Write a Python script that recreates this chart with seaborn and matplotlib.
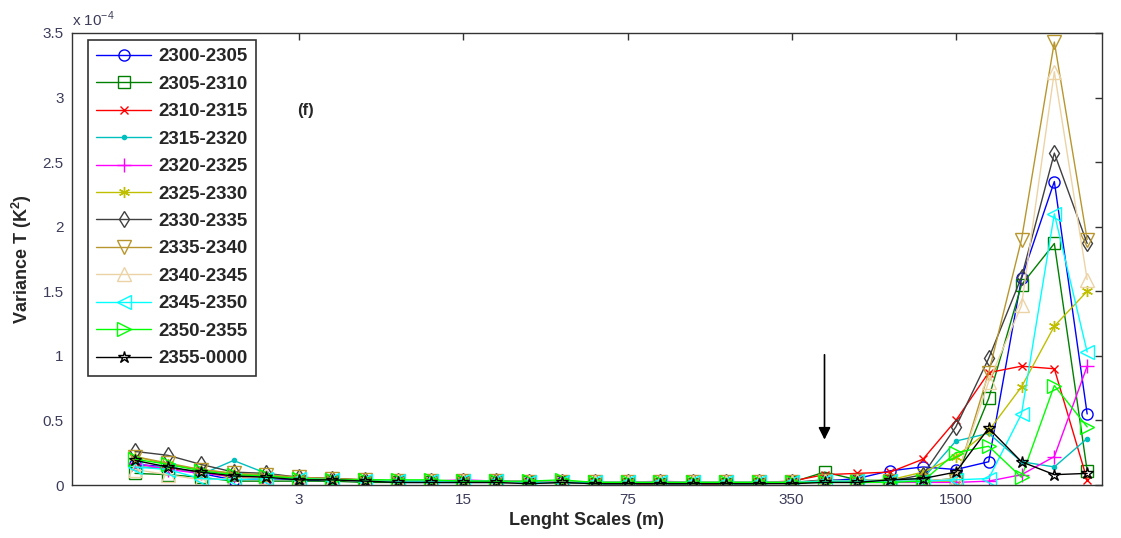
import matplotlib
matplotlib.use('Agg')
import matplotlib.pyplot as plt
import seaborn as sns
import pandas as pd

# scale index (1..30); only every 5th one carries a label
idx = list(range(1, 31))
tick_pos = [6, 11, 16, 21, 26]
tick_labels = ['3', '15', '75', '350', '1500']

# variance of T, units of 1e-4 K^2
s2300 = [0.16, 0.14, 0.09, 0.04, 0.05, 0.04, 0.03, 0.03, 0.02, 0.02, 0.02, 0.02, 0.02, 0.02, 0.01,
         0.01, 0.01, 0.01, 0.01, 0.01, 0.02, 0.03, 0.05, 0.11, 0.14, 0.12, 0.18, 1.60, 2.35, 0.55]
s2305 = [0.09, 0.08, 0.06, 0.03, 0.03, 0.03, 0.03, 0.02, 0.02, 0.02, 0.02, 0.02, 0.02, 0.02, 0.01,
         0.01, 0.01, 0.01, 0.01, 0.01, 0.02, 0.10, 0.04, 0.03, 0.03, 0.05, 0.67, 1.55, 1.87, 0.11]
s2310 = [0.14, 0.13, 0.10, 0.06, 0.05, 0.05, 0.04, 0.03, 0.03, 0.02, 0.03, 0.02, 0.02, 0.02, 0.02,
         0.01, 0.01, 0.01, 0.01, 0.02, 0.03, 0.08, 0.09, 0.10, 0.20, 0.50, 0.87, 0.92, 0.90, 0.04]
s2315 = [0.13, 0.15, 0.08, 0.19, 0.09, 0.05, 0.04, 0.04, 0.03, 0.02, 0.02, 0.03, 0.02, 0.02, 0.02,
         0.02, 0.01, 0.01, 0.02, 0.02, 0.02, 0.03, 0.03, 0.04, 0.05, 0.34, 0.40, 0.18, 0.14, 0.36]
s2320 = [0.17, 0.12, 0.09, 0.07, 0.06, 0.05, 0.04, 0.04, 0.03, 0.03, 0.04, 0.03, 0.03, 0.02, 0.02,
         0.02, 0.03, 0.02, 0.02, 0.02, 0.02, 0.03, 0.02, 0.02, 0.02, 0.02, 0.03, 0.08, 0.22, 0.92]
s2325 = [0.22, 0.16, 0.12, 0.09, 0.07, 0.06, 0.05, 0.04, 0.03, 0.03, 0.03, 0.03, 0.02, 0.02, 0.02,
         0.02, 0.02, 0.02, 0.02, 0.02, 0.02, 0.03, 0.03, 0.04, 0.10, 0.22, 0.42, 0.76, 1.23, 1.50]
s2330 = [0.26, 0.23, 0.16, 0.10, 0.09, 0.06, 0.05, 0.04, 0.03, 0.03, 0.03, 0.03, 0.02, 0.02, 0.02,
         0.02, 0.02, 0.02, 0.02, 0.02, 0.02, 0.04, 0.03, 0.03, 0.08, 0.45, 0.98, 1.61, 2.57, 1.87]
s2335 = [0.22, 0.17, 0.12, 0.09, 0.08, 0.06, 0.05, 0.04, 0.03, 0.03, 0.03, 0.03, 0.02, 0.02, 0.02,
         0.02, 0.02, 0.02, 0.02, 0.02, 0.02, 0.03, 0.03, 0.03, 0.03, 0.03, 0.87, 1.90, 3.43, 1.90]
s2340 = [0.12, 0.08, 0.04, 0.05, 0.06, 0.05, 0.04, 0.03, 0.03, 0.03, 0.03, 0.02, 0.02, 0.02, 0.02,
         0.02, 0.02, 0.02, 0.02, 0.02, 0.02, 0.03, 0.03, 0.03, 0.03, 0.05, 0.80, 1.39, 3.20, 1.59]
s2345 = [0.14, 0.12, 0.05, 0.04, 0.05, 0.05, 0.04, 0.03, 0.03, 0.03, 0.03, 0.03, 0.02, 0.02, 0.02,
         0.02, 0.02, 0.02, 0.02, 0.02, 0.02, 0.03, 0.03, 0.03, 0.03, 0.04, 0.05, 0.55, 2.10, 1.03]
s2350 = [0.20, 0.16, 0.11, 0.08, 0.07, 0.05, 0.04, 0.04, 0.04, 0.04, 0.03, 0.03, 0.03, 0.04, 0.02,
         0.02, 0.02, 0.02, 0.02, 0.02, 0.02, 0.02, 0.02, 0.02, 0.03, 0.25, 0.30, 0.06, 0.77, 0.45]
s2355 = [0.19, 0.14, 0.10, 0.07, 0.06, 0.04, 0.04, 0.03, 0.02, 0.02, 0.02, 0.02, 0.01, 0.02, 0.01,
         0.01, 0.01, 0.01, 0.01, 0.01, 0.01, 0.02, 0.02, 0.04, 0.05, 0.10, 0.44, 0.18, 0.08, 0.09]

labels = ['2300-2305', '2305-2310', '2310-2315', '2315-2320', '2320-2325', '2325-2330',
          '2330-2335', '2335-2340', '2340-2345', '2345-2350', '2350-2355', '2355-0000']
series = [s2300, s2305, s2310, s2315, s2320, s2325, s2330, s2335, s2340, s2345, s2350, s2355]
colors = ['#0000ff', '#008000', '#ff0000', '#00bfbf', '#ff00ff', '#bfbf00',
          '#404040', '#b8962e', '#ecd3a6', '#00ffff', '#00ff00', '#000000']
markers = ['o', 's', 'x', 'o', '+', (6, 2, 0), 'd', 'v', '^', '<', '>', '*']
msizes = [8, 8, 6, 3, 10, 8, 8, 10, 10, 10, 10, 9]

sns.set_style('white')
plt.rcParams['font.family'] = ['Liberation Sans', 'DejaVu Sans']
plt.rcParams['mathtext.fontset'] = 'custom'
plt.rcParams['mathtext.rm'] = 'Liberation Sans'
plt.rcParams['mathtext.bf'] = 'Liberation Sans:bold'

fig = plt.figure(figsize=(11.21, 5.38), dpi=100)
ax = fig.add_axes([0.0642, 0.0985, 0.9188, 0.8402])

for lab, vals, c, m, ms in zip(labels, series, colors, markers, msizes):
    df = pd.DataFrame({'x': idx, 'y': vals})
    face = c if lab == '2315-2320' else 'none'
    sns.lineplot(data=df, x='x', y='y', ax=ax, color=c, marker=m, markersize=ms,
                 markerfacecolor=face, markeredgecolor=c, markeredgewidth=1.0,
                 linewidth=1.0, label=lab)

ax.set_xlim(-0.92, 30.45)
ax.set_ylim(0, 3.5)
ax.set_xticks(tick_pos)
ax.set_xticklabels(tick_labels)
ax.set_yticks([0, 0.5, 1, 1.5, 2, 2.5, 3, 3.5])
ax.set_yticklabels(['0', '0.5', '1', '1.5', '2', '2.5', '3', '3.5'])
ax.tick_params(direction='in', top=True, right=True, length=5, width=1,
               labelsize=11, labelcolor='#3c3c5a', color='#333333', pad=6)
for sp in ax.spines.values():
    sp.set_color('#333333')
    sp.set_linewidth(1.0)

ax.set_xlabel('Lenght Scales (m)', fontsize=13, fontweight='bold', labelpad=3)
ax.set_ylabel(r'Variance T (K$^{\mathbf{2}}$)', fontsize=13, fontweight='bold', labelpad=6)

ax.text(-0.92, 3.53, r'x 10$^{-4}$', fontsize=11, color='#3c3c5a', ha='left', va='bottom')
ax.text(6.2, 2.9, '(f)', fontsize=12, fontweight='bold', ha='center', va='center')

ax.annotate('', xy=(22, 0.33), xytext=(22, 1.03),
            arrowprops=dict(arrowstyle='-|>', color='black', lw=1.2, mutation_scale=18))

leg = ax.legend(loc='upper left', bbox_to_anchor=(0.0155, 0.985), borderaxespad=0,
                frameon=True, fancybox=False, edgecolor='black', handlelength=2.9,
                labelspacing=0.55, borderpad=0.45, handletextpad=0.4,
                prop={'weight': 'bold', 'size': 13.5})
leg.get_frame().set_linewidth(1.2)

fig.savefig('out.png', dpi=100)
